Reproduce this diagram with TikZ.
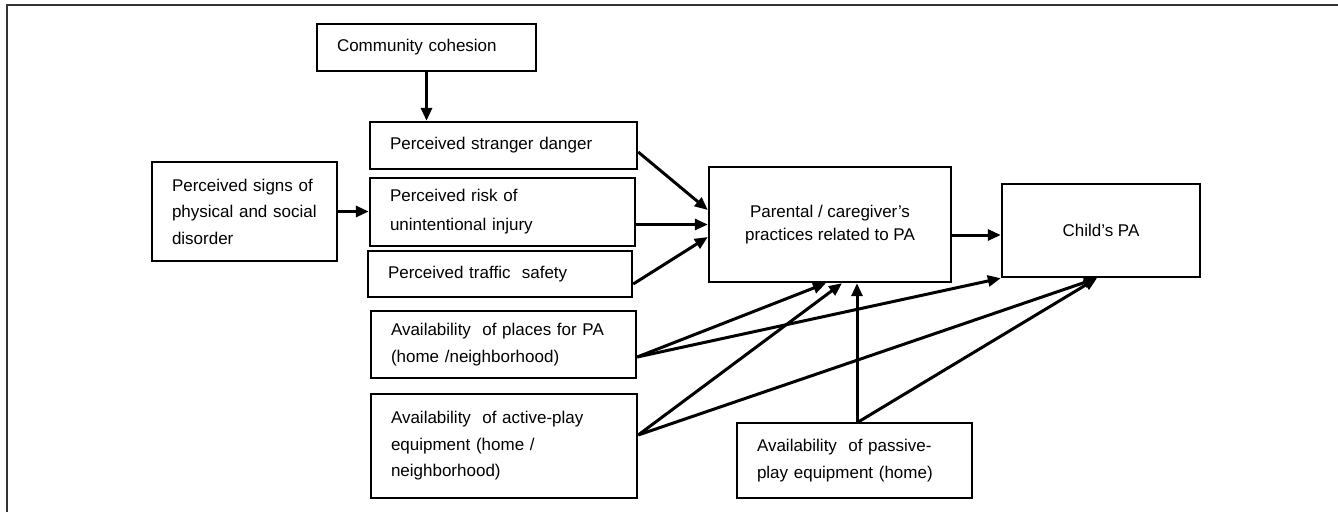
\documentclass[tikz,border=0pt]{standalone}
\usepackage{fontspec}
\setmainfont{Liberation Sans}
\usetikzlibrary{arrows.meta,calc}
\begin{document}
\begin{tikzpicture}[x=1pt,y=-1pt,
  box/.style={draw, line width=2.4pt, inner ysep=0pt, inner xsep=20pt,
    align=left, font=\fontsize{17}{26.5}\selectfont},
  cbox/.style={draw, line width=2.4pt, inner sep=0pt, align=center,
    font=\fontsize{17}{23}\selectfont},
  arr/.style={line width=3pt, -{Triangle[length=13pt,width=11pt]}},
  frame/.style={line width=2pt, draw=black!80}]
\useasboundingbox (0,0) rectangle (1338,512);
\draw[frame] (7,512) -- (7,5) -- (1338,5);
% nodes
\node[box, text width=179pt, minimum height=47pt] (comm) at (426.5,47.5) {Community cohesion};
\node[box, text width=227pt, minimum height=47pt] (stranger) at (503.5,145.5) {Perceived stranger danger};
\node[box, text width=225pt, minimum height=68pt, font=\fontsize{17}{29}\selectfont] (risk) at (502.5,212) {Perceived risk of\\unintentional injury};
\node[box, text width=224pt, minimum height=46pt] (traffic) at (500,274) {Perceived traffic\ \ safety};
\node[box, text width=145pt, minimum height=99pt] (signs) at (244.5,211.5) {Perceived signs of\\physical and social\\disorder};
\node[cbox, minimum width=242pt, minimum height=115pt] (par) at (830,224.5) {Parental / caregiver’s\\practices related to PA};
\node[cbox, minimum width=198pt, minimum height=93pt] (child) at (1101,230.5) {Child’s PA};
\node[box, text width=225pt, minimum height=67pt] (places) at (503.5,344.5) {Availability\ \ of places for PA\\(home /neighborhood)};
\node[box, text width=226pt, minimum height=104pt] (active) at (504,446) {Availability\ \ of active-play\\equipment (home /\\neighborhood)};
\node[box, text width=195pt, minimum height=75pt] (passive) at (854.5,460.5) {Availability\ \ of passive-\\play equipment (home)};
% connectors
\draw[arr] (comm.south) -- (comm.south |- stranger.north);
\draw[arr] (signs.east) -- (signs.east -| risk.west);
\draw[arr] ([yshift=-6.5pt]stranger.east) -- ([yshift=14.5pt]par.west);
\draw[arr] (risk.east |- par.west) -- (par.west);
\draw[arr] ([yshift=-10pt]traffic.east) -- ([yshift=-12.5pt]par.west);
\draw[arr] ([yshift=-10.5pt]par.east) -- ([yshift=-10.5pt]par.east -| child.west);
\draw[arr] ([yshift=-12.5pt]places.east) -- ([xshift=-4pt]par.south);
\draw[arr] ([yshift=-12.5pt]places.east) -- (child.south west);
\draw[arr] ([yshift=11pt]active.east) -- ([xshift=12pt]par.south);
\draw[arr] ([yshift=11pt]active.east) -- ([xshift=-4pt]child.south);
\draw[arr] ([xshift=2.5pt]passive.north) -- ([xshift=2.5pt]passive.north |- par.south);
\draw[arr] ([xshift=4pt]passive.north) -- ([xshift=-4pt]child.south);
\end{tikzpicture}
\end{document}
